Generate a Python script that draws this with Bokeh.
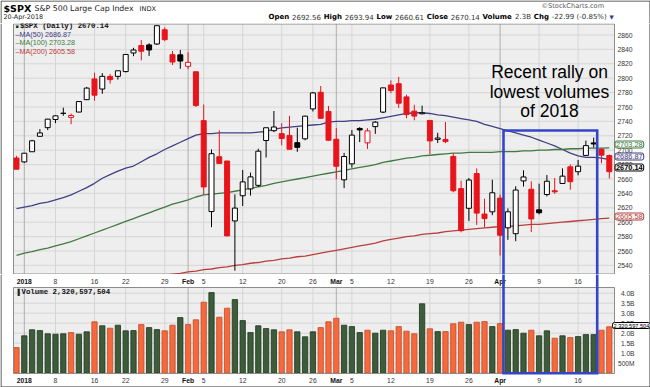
import numpy as np
from bokeh.plotting import figure
from bokeh.layouts import column
from bokeh.models import Label, Range1d, ColumnDataSource
from bokeh.core.properties import value
from bokeh.embed import file_html
from bokeh.resources import INLINE

# ---------------- data ----------------
prev_close = 2687.54  # close before the first bar (sets the colour of the first bar)

open_ = [2689.15,
         2683.73, 2697.85, 2719.31, 2731.33,
         2742.67, 2751.15, 2745.55, 2752.97, 2770.18,
         2798.96, 2784.99, 2802.40, 2802.60,
         2809.16, 2835.05, 2845.42, 2846.24, 2847.48,
         2867.23, 2832.74, 2832.41,
         2816.45, 2808.92,
         2741.06, 2614.78, 2690.95, 2685.01, 2601.78,
         2636.75, 2646.27, 2651.21, 2713.46, 2727.14,
         2722.99, 2720.53, 2710.42, 2715.80,
         2757.37, 2780.45, 2753.78,
         2715.22, 2658.89,
         2681.06, 2730.18, 2710.18, 2732.75, 2752.91,
         2790.54, 2792.31, 2774.06, 2754.27, 2750.57,
         2741.38, 2715.05, 2714.99, 2691.36, 2646.71,
         2619.35, 2667.57, 2611.30, 2614.41,
         2633.45, 2592.17, 2584.04, 2657.36, 2645.82,
         2617.18, 2638.41, 2643.70, 2653.83, 2676.90,
         2670.10, 2692.74, 2710.11, 2701.16, 2692.56]

high = [2692.12,
        2695.89, 2714.37, 2729.29, 2743.45,
        2748.51, 2759.14, 2750.80, 2767.56, 2787.85,
        2807.54, 2807.04, 2805.83, 2810.33,
        2833.03, 2842.24, 2852.97, 2848.56, 2872.87,
        2870.62, 2837.75, 2839.26,
        2835.96, 2808.92,
        2763.39, 2701.04, 2727.67, 2685.27, 2638.67,
        2672.61, 2668.84, 2702.10, 2731.51, 2754.42,
        2737.60, 2747.75, 2731.26, 2747.76,
        2780.64, 2789.15, 2761.52,
        2730.89, 2696.25,
        2728.09, 2732.08, 2730.60, 2740.45, 2786.57,
        2796.98, 2801.90, 2777.11, 2763.03, 2761.85,
        2741.38, 2724.22, 2739.14, 2695.68, 2657.67,
        2661.36, 2674.78, 2632.65, 2659.07,
        2638.30, 2619.14, 2649.86, 2672.08, 2656.88,
        2653.55, 2665.45, 2661.43, 2674.72, 2680.26,
        2686.49, 2713.34, 2717.49, 2702.84, 2693.94]

low = [2673.61,
       2682.36, 2697.77, 2719.07, 2727.92,
       2737.60, 2747.86, 2736.06, 2752.78, 2769.64,
       2768.64, 2778.38, 2792.56, 2798.08,
       2808.12, 2830.59, 2824.81, 2830.94, 2846.18,
       2851.48, 2818.27, 2813.04,
       2812.70, 2759.97,
       2638.17, 2593.07, 2681.33, 2580.56, 2532.69,
       2622.45, 2637.08, 2648.87, 2689.82, 2725.11,
       2706.76, 2701.29, 2697.77, 2713.74,
       2753.78, 2744.22, 2713.54,
       2659.65, 2647.32,
       2675.75, 2711.26, 2701.74, 2722.65, 2751.54,
       2779.26, 2758.68, 2744.38, 2741.47, 2749.97,
       2694.59, 2710.05, 2709.79, 2641.59, 2585.89,
       2601.81, 2596.12, 2593.06, 2609.72,
       2553.80, 2575.49, 2573.61, 2649.58, 2586.27,
       2610.79, 2635.78, 2639.25, 2653.83, 2645.05,
       2665.16, 2692.05, 2703.63, 2681.90, 2660.61]

close = [2673.61,
         2695.81, 2713.06, 2723.99, 2743.15,
         2747.71, 2751.29, 2748.23, 2767.56, 2786.24,
         2776.42, 2802.56, 2798.03, 2810.30,
         2832.97, 2839.13, 2837.54, 2839.25, 2872.87,
         2853.53, 2822.43, 2823.81,
         2821.98, 2762.13,
         2648.94, 2695.14, 2681.66, 2581.00, 2619.55,
         2656.00, 2662.94, 2698.63, 2731.20, 2732.22,
         2716.26, 2701.33, 2703.96, 2747.30,
         2779.60, 2744.28, 2713.83,
         2677.67, 2691.25,
         2720.94, 2728.12, 2726.80, 2738.97, 2786.57,
         2783.02, 2765.31, 2749.48, 2747.33, 2752.01,
         2712.92, 2716.94, 2711.93, 2643.69, 2588.26,
         2658.55, 2612.62, 2605.00, 2640.87,
         2581.88, 2614.45, 2644.69, 2662.84, 2604.47,
         2613.16, 2656.87, 2642.19, 2663.99, 2656.30,
         2677.84, 2706.39, 2708.64, 2693.13, 2670.14]

volume_b = [1.28,
            1.87, 2.17, 2.13, 1.97,
            1.95, 1.97, 2.03, 1.95, 2.07,
            2.57, 2.37, 2.25, 2.40,
            2.12, 2.13, 2.43, 2.28, 2.18,
            2.12, 2.40, 2.78,
            2.43, 2.67,
            3.55, 4.03, 2.80, 3.25, 3.68,
            2.63, 2.03, 2.37, 2.23, 2.17,
            2.07, 2.17, 2.07, 1.82,
            2.07, 2.28, 2.57,
            2.75, 2.40,
            2.33, 2.03, 2.15, 2.00, 2.15,
            2.12, 2.33, 2.10, 1.97, 3.47,
            2.22, 2.08, 2.08, 2.47, 2.55,
            2.43, 2.55, 2.58, 2.33,
            2.48, 2.15, 2.18, 2.00, 2.15,
            1.87, 2.12, 1.75, 1.87, 1.78,
            1.83, 1.93, 1.93, 2.15, 2.32]

ma50 = [2619, 2621, 2623, 2626, 2628, 2631, 2634, 2638, 2643, 2648,
        2654, 2661, 2666, 2671, 2675, 2678, 2684, 2690, 2695, 2701,
        2706, 2711, 2716, 2721, 2723, 2723, 2724, 2724, 2724, 2724,
        2724, 2725, 2726, 2729, 2731, 2732, 2733, 2734, 2735, 2736,
        2739, 2740, 2740, 2741, 2741, 2742, 2743, 2745, 2747, 2749,
        2751, 2752, 2752, 2751, 2749, 2748, 2746, 2744, 2742, 2740,
        2736, 2733, 2730, 2727, 2724, 2721, 2718, 2714, 2710, 2706,
        2701, 2696, 2692, 2690, 2690, 2689, 2686.87]

ma100 = [2554, 2557, 2559, 2562, 2564, 2567, 2570, 2573, 2577, 2581,
         2585, 2589, 2593, 2597, 2601, 2605, 2609, 2613, 2617, 2621,
         2625, 2628, 2631, 2635, 2638, 2639, 2640, 2641, 2643, 2645,
         2647, 2649, 2651, 2654, 2656, 2658, 2660, 2662, 2664, 2666,
         2668, 2670, 2672, 2674, 2676, 2678, 2680, 2683, 2685, 2687,
         2689, 2690, 2692, 2693, 2694, 2695, 2696, 2696, 2697, 2697,
         2697, 2697, 2698, 2698, 2698, 2699, 2699, 2700, 2700, 2701,
         2701, 2702, 2702, 2703, 2703, 2703, 2703.28]

ma200 = [2496, 2498, 2499, 2501, 2502, 2504, 2505, 2507, 2508, 2510,
         2512, 2513, 2515, 2516, 2518, 2520, 2521, 2523, 2524, 2526,
         2528, 2529, 2531, 2532, 2534, 2535, 2537, 2538, 2540, 2541,
         2543, 2544, 2546, 2547, 2549, 2550, 2552, 2553, 2555, 2557,
         2559, 2561, 2563, 2565, 2567, 2569, 2571, 2574, 2576, 2578,
         2580, 2581, 2583, 2584, 2585, 2587, 2588, 2589, 2590, 2591,
         2592, 2593, 2594, 2594, 2595, 2596, 2597, 2597, 2598, 2599,
         2600, 2601, 2602, 2603, 2604, 2605, 2605.58]

tick_idx = [1, 5, 10, 14, 19, 22, 24, 29, 34, 38, 41, 43, 48, 53, 58, 62, 67, 72]
tick_labels = ["2018", "8", "16", "22", "29", "Feb", "5", "12", "20", "26",
               "Mar", "5", "12", "19", "26", "Apr", "9", "16"]
month_labels = ["2018", "Feb", "Mar", "Apr"]

price_ticks = list(range(2540, 2861, 20))
vol_ticks = [0.5, 1.0, 1.5, 2.0, 2.5, 3.0, 3.5, 4.0]
vol_tick_labels = ["500M", "1.0B", "1.5B", "2.0B", "2.5B", "3.0B", "3.5B", "4.0B"]

header_items = [("Open", "2692.56"), ("High", "2693.94"), ("Low", "2660.61"),
                ("Close", "2670.14"), ("Volume", "2.3B"), ("Chg", "-22.99 (-0.85%)")]

# ---------------- styles / positions ----------------
RED = "#e8141b"
BLACK = "#000000"
C_MA50 = "#404082"
C_MA100 = "#407a40"
C_MA200 = "#b8403c"
BLUE = "#3346c8"
V_UP = "#3c5c3a"
V_UP_LINE = "#1f331e"
V_DN = "#f5693c"
V_DN_LINE = "#c04a28"
PANEL = "#eeeeee"
GRID = "#d6d6d6"
MONTH_GRID = "#adadad"
BORDER = "#8c8c8c"
FRAME = "#333333"
FONT = "Liberation Sans"
HFONT = "DejaVu Sans"
W = 650

def xd(sx):            # pixel x -> bar index
    return (sx - 16.0) / 7.8
def yp(sy):            # pixel y -> price (upper panel)
    return 2860.0 - (sy - 34.5) / 0.72
def yv(sy):            # pixel y -> volume in billions (lower panel)
    return (372.7 - sy) / 20.0

# approximate DejaVu Sans advance widths (em) used to lay out the header line
_REG = {d: 0.636 for d in "0123456789"}
_REG.update({".": 0.318, "-": 0.361, " ": 0.318, "(": 0.390, ")": 0.390, "%": 0.950, "B": 0.686})
_BOLD = {"O": 0.850, "p": 0.716, "e": 0.678, "n": 0.712, "H": 0.837, "i": 0.343, "g": 0.716,
         "h": 0.712, "L": 0.637, "o": 0.687, "w": 0.924, "C": 0.734, "l": 0.343, "s": 0.595,
         "V": 0.774, "u": 0.712, "m": 1.042}
def tw(s, size, bold):
    tab = _BOLD if bold else _REG
    return sum(tab.get(ch, 0.62) for ch in s) * size

n = len(close)
idx = list(range(n))
prevs = [prev_close] + close[:-1]
ccol = [BLACK if c >= pc else RED for c, pc in zip(close, prevs)]
cfill = ["#ffffff" if c >= o else cc for o, c, cc in zip(open_, close, ccol)]
btop = [max(o, c) for o, c in zip(open_, close)]
bbot = [min(o, c) for o, c in zip(open_, close)]
vfill = [V_UP if c >= pc else V_DN for c, pc in zip(close, prevs)]
vline = [V_UP_LINE if c >= pc else V_DN_LINE for c, pc in zip(close, prevs)]

day_ticks = [k for k, t in zip(tick_idx, tick_labels) if t not in month_labels]
day_labels = [t for t in tick_labels if t not in month_labels]
mon_ticks = [k for k, t in zip(tick_idx, tick_labels) if t in month_labels]
mon_labels = [t for t in tick_labels if t in month_labels]

def bare(fig):
    fig.background_fill_color = "white"
    fig.border_fill_color = "white"
    fig.outline_line_color = None
    fig.grid.visible = False
    return fig

def txt(fig, x, y, text, size="8px", color="#000000", style="normal", font=FONT,
        align="left", baseline="middle"):
    fig.text(x=[x], y=[y], text=[text], text_font=value(font), text_font_size=size,
             text_color=color, text_font_style=style, text_align=align, text_baseline=baseline)

def box_label(fig, x, y, text, size, color, style="normal"):
    fig.add_layout(Label(x=x, y=y, text=text, text_font_size=size, text_color=color,
                         text_font_style=style, text_font=FONT, text_align="left",
                         text_baseline="middle", background_fill_color="#f7f7f7",
                         border_line_color=color, border_line_width=1, padding=1,
                         border_radius=2))

xr = Range1d(xd(0), xd(W))
PL, PR = xd(13), xd(614)

# ---------------- header ----------------
h = bare(figure(width=W, height=23, x_range=Range1d(0, W), y_range=Range1d(23, 0),
                output_backend="svg", toolbar_location=None,
                x_axis_location=None, y_axis_location=None,
                min_border_left=0, min_border_right=0, min_border_top=0, min_border_bottom=0))
txt(h, 3, 7.5, "$SPX", size="9.5px", style="bold", font=HFONT)
txt(h, 34, 7.8, "S&P 500 Large Cap Index", size="7.8px", color="#222222", font=HFONT)
txt(h, 139, 8, "INDX", size="6.6px", color="#222222", font=HFONT)
txt(h, 3, 16, "20-Apr-2018", size="6.4px", color="#222222", font=HFONT)
txt(h, 541, 5, "\u00a9StockCharts.com", size="6.6px", color="#555555", font=HFONT)

HS = 7.0
HX0, HX1 = 268.0, 614.0
pieces = []
for lbl, val in header_items:
    pieces.append((lbl, True))
    pieces.append((val, False))
tri_w = 5.0
total = sum(tw(s, HS, b) for s, b in pieces) + tri_w
gap = (HX1 - HX0 - total) / len(pieces)
cx = HX0
for s, b in pieces:
    txt(h, cx, 16.5, s, size="%.1fpx" % HS, style="bold" if b else "normal", font=HFONT,
        color="#000000" if b else "#333333")
    cx += tw(s, HS, b) + gap
txt(h, cx, 16.5, "\u25BC", size="5.5px", color="#333399", font=HFONT)

h.line([0.5, 0.5], [23, 0.5], line_color=FRAME, line_width=1)
h.line([0.5, 649.5], [0.5, 0.5], line_color=FRAME, line_width=1)
h.line([649.5, 649.5], [0.5, 23], line_color=FRAME, line_width=1)

# ---------------- price panel ----------------
p = bare(figure(width=W, height=251, x_range=xr, y_range=Range1d(yp(274), yp(23)),
                output_backend="svg", toolbar_location=None,
                x_axis_location=None, y_axis_location=None,
                min_border_left=0, min_border_right=0, min_border_top=0, min_border_bottom=0))
PT, PB = yp(23.5), yp(273.5)
p.quad(left=PL, right=PR, bottom=PB, top=PT, fill_color=PANEL, line_color=None)
p.segment(x0=[PL] * len(price_ticks), y0=price_ticks, x1=[PR] * len(price_ticks), y1=price_ticks,
          line_color=GRID, line_width=1)
p.segment(x0=day_ticks, y0=[PB] * len(day_ticks), x1=day_ticks, y1=[PT] * len(day_ticks),
          line_color=GRID, line_width=1)
p.segment(x0=mon_ticks, y0=[PB] * len(mon_ticks), x1=mon_ticks, y1=[PT] * len(mon_ticks),
          line_color=MONTH_GRID, line_width=1)
p.quad(left=PL, right=PR, bottom=PB, top=PT, fill_color=None, line_color=BORDER, line_width=1)

p.line(idx, ma50, line_color=C_MA50, line_width=1.3)
p.line(idx, ma100, line_color=C_MA100, line_width=1.3)
p.line(idx, ma200, line_color=C_MA200, line_width=1.3)

src = ColumnDataSource(dict(x=idx, h=high, l=low, t=btop, b=bbot, c=ccol, f=cfill))
p.segment(x0="x", y0="l", x1="x", y1="h", source=src, line_color="c", line_width=1)
p.vbar(x="x", top="t", bottom="b", width=0.64, source=src, fill_color="f", line_color="c", line_width=1)

# blue highlight box
RL, RR = xd(503), xd(596.7)
RT = yp(130)
p.line([RL, RL, RR, RR], [yp(300), RT, RT, yp(300)], line_color=BLUE, line_width=2.6, line_join="miter")

# right price scale
p.text(x=[xd(617)] * len(price_ticks), y=price_ticks, text=[str(t) for t in price_ticks],
       text_font=value(FONT), text_font_size="6.8px", text_color="#333333",
       text_align="left", text_baseline="middle")

# legend
p.text(x=[xd(15)], y=[yp(25.5)], text=["\u25A0"], text_font=value(FONT), text_font_size="5px",
       text_color="#222222", text_baseline="middle")
txt(p, xd(19.5), yp(25.5), "$SPX (Daily) %.2f" % close[-1], size="7.4px", font="Liberation Mono",
    style="bold", color="#111111")
txt(p, xd(15), yp(33.5), "\u2013MA(50) %.2f" % ma50[-1], size="7.2px", color=C_MA50)
txt(p, xd(15), yp(42), "\u2013MA(100) %.2f" % ma100[-1], size="7.2px", color=C_MA100)
txt(p, xd(15), yp(50.5), "\u2013MA(200) %.2f" % ma200[-1], size="7.2px", color=C_MA200)

# annotation
txt(p, xd(549), yp(71.5), "Recent rally on", size="17.5px", align="center")
txt(p, xd(549), yp(91), "lowest volumes", size="17.5px", align="center")
txt(p, xd(549), yp(110), "of 2018", size="17.5px", align="center")

# value boxes at right
box_label(p, xd(614.5), yp(144), "%.2f" % ma100[-1], "7.4px", C_MA100)
box_label(p, xd(614.5), yp(156), "%.2f" % ma50[-1], "7.4px", C_MA50)
box_label(p, xd(614.5), yp(167), "%.2f" % close[-1], "7.4px", BLACK, "bold")
box_label(p, xd(614.5), yp(216), "%.2f" % ma200[-1], "7.4px", C_MA200)

p.line([xd(0.5)] * 2, [yp(274), yp(23)], line_color=FRAME, line_width=1)
p.line([xd(649.5)] * 2, [yp(274), yp(23)], line_color=FRAME, line_width=1)

# ---------------- volume panel ----------------
v = bare(figure(width=W, height=113, x_range=xr, y_range=Range1d(yv(387), yv(274)),
                output_backend="svg", toolbar_location=None,
                x_axis_location=None, y_axis_location=None,
                min_border_left=0, min_border_right=0, min_border_top=0, min_border_bottom=0))
VT, VB = yv(287), yv(373)
v.quad(left=PL, right=PR, bottom=VB, top=VT, fill_color=PANEL, line_color=None)
v.segment(x0=[PL] * len(vol_ticks), y0=vol_ticks, x1=[PR] * len(vol_ticks), y1=vol_ticks,
          line_color=GRID, line_width=1)
v.segment(x0=day_ticks, y0=[VB] * len(day_ticks), x1=day_ticks, y1=[VT] * len(day_ticks),
          line_color=GRID, line_width=1)
v.segment(x0=mon_ticks, y0=[VB] * len(mon_ticks), x1=mon_ticks, y1=[VT] * len(mon_ticks),
          line_color=MONTH_GRID, line_width=1)

vsrc = ColumnDataSource(dict(x=idx, top=volume_b, f=vfill, l=vline))
v.vbar(x="x", top="top", bottom=0, width=0.68, source=vsrc, fill_color="f", line_color="l", line_width=0.8)
v.quad(left=PL, right=PR, bottom=VB, top=VT, fill_color=None, line_color=BORDER, line_width=1)

# date labels: between the panels and under the volume panel
for yy in (yv(280.5), yv(379.5)):
    v.text(x=day_ticks, y=[yy] * len(day_ticks), text=day_labels, text_font=value(FONT),
           text_font_size="6.8px", text_color="#333333", text_align="center", text_baseline="middle")
    v.text(x=mon_ticks, y=[yy] * len(mon_ticks), text=mon_labels, text_font=value(FONT),
           text_font_size="6.8px", text_font_style="bold", text_color="#111111",
           text_align="center", text_baseline="middle")

v.line([RL, RL, RR, RR], [yv(250), 0, 0, yv(250)], line_color=BLUE, line_width=2.6, line_join="miter")

# right volume scale
v.text(x=[xd(634)] * len(vol_ticks), y=vol_ticks, text=vol_tick_labels, text_font=value(FONT),
       text_font_size="6.6px", text_color="#333333", text_align="right", text_baseline="middle")

v.text(x=[xd(15)], y=[yv(291.5)], text=["\u2590"], text_font=value(FONT), text_font_size="6px",
       text_color="#222222", text_baseline="middle")
txt(v, xd(21), yv(291.5), "Volume 2,320,597,504", size="7.4px", font="Liberation Mono",
    style="bold", color="#111111")
box_label(v, xd(612), yv(325), "2,320,597,504", "5.6px", BLACK)

v.line([xd(0.5)] * 2, [yv(387), yv(274)], line_color=FRAME, line_width=1)
v.line([xd(649.5)] * 2, [yv(387), yv(274)], line_color=FRAME, line_width=1)
v.line([xd(0.5), xd(649.5)], [yv(386.5), yv(386.5)], line_color=FRAME, line_width=1)

layout = column(h, p, v)
open("out.html", "w").write(file_html(layout, INLINE))
